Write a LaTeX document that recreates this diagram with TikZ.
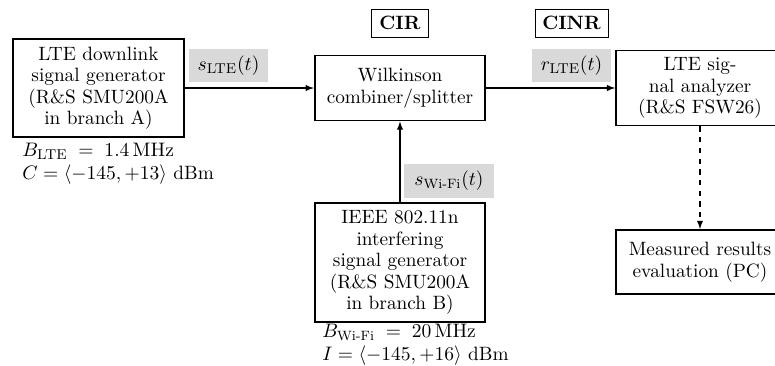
\documentclass[tikz,border=0pt]{standalone}
\usepackage{amsmath,amsfonts}
\usepackage{tikz}

\begin{document}
\begin{tikzpicture}[x=0.56pt,y=-0.56pt,font=\fontsize{10.8pt}{12pt}\selectfont]
      \tikzstyle{block}=[draw,line width=1pt,align=center,inner sep=2pt,minimum width=95.5pt]
      \tikzstyle{sig}=[fill=gray!30,inner sep=3pt,minimum width=44pt,minimum height=18.5pt]
      \tikzstyle{meas}=[draw,thin,font=\fontsize{10.8pt}{12pt}\selectfont\bfseries,inner sep=2pt,minimum height=15.7pt]
      \tikzstyle{param}=[align=left,inner sep=0pt,anchor=north west]
      \useasboundingbox (0,0) rectangle (775,365);
      \node[block,minimum height=55pt] at (98.5,88) (gen) {LTE downlink\\signal generator\\(R\&S SMU200A\\in branch A)};
      \node[block,minimum height=36.5pt] at (400,88) (wil) {Wilkinson\\combiner/splitter};
      \node[block,minimum height=66.5pt] at (400,262.5) (wifi) {IEEE 802.11n\\interfering\\signal generator\\(R\&S SMU200A\\in branch B)};
      \node[block,minimum width=94pt,minimum height=42pt] at (700,88) (fsw) {LTE sig-\\nal analyzer\\(R\&S FSW26)};
      \node[block,minimum width=94pt,minimum height=36pt] at (700,262) (pc) {Measured results\\evaluation (PC)};
      \node[meas,minimum width=32pt] at (400,23) (cir) {CIR};
      \node[meas,minimum width=41pt] at (571.5,23) (cinr) {CINR};
      \node[sig] at (228.5,65.5) (slte) {$s_{\mathrm{LTE}}(t)$};
      \node[sig] at (571.5,65.5) (rlte) {$r_{\mathrm{LTE}}(t)$};
      \node[sig,minimum width=50.4pt,minimum height=19pt] at (449,181) (swifi) {$s_{\text{Wi-Fi}}(t)$};
      \node[param] at (22,143) (genpar) {$B_{\mathrm{LTE}}\;=\;1.4\,\mathrm{MHz}$\\[0.5pt]$C = \langle -145, +13\rangle$ dBm};
      \node[param] at (322,324) (wifipar) {$B_{\text{Wi-Fi}}\;=\;20\,\mathrm{MHz}$\\[0.5pt]$I = \langle -145, +16\rangle$ dBm};
      \draw[semithick,-latex] (gen) -- (wil);
      \draw[semithick,-latex] (wil) -- (fsw);
      \draw[semithick,-latex] (wifi) -- (wil);
      \draw[semithick,dashed,-latex] (fsw) -- (pc);
    \end{tikzpicture}
\end{document}
